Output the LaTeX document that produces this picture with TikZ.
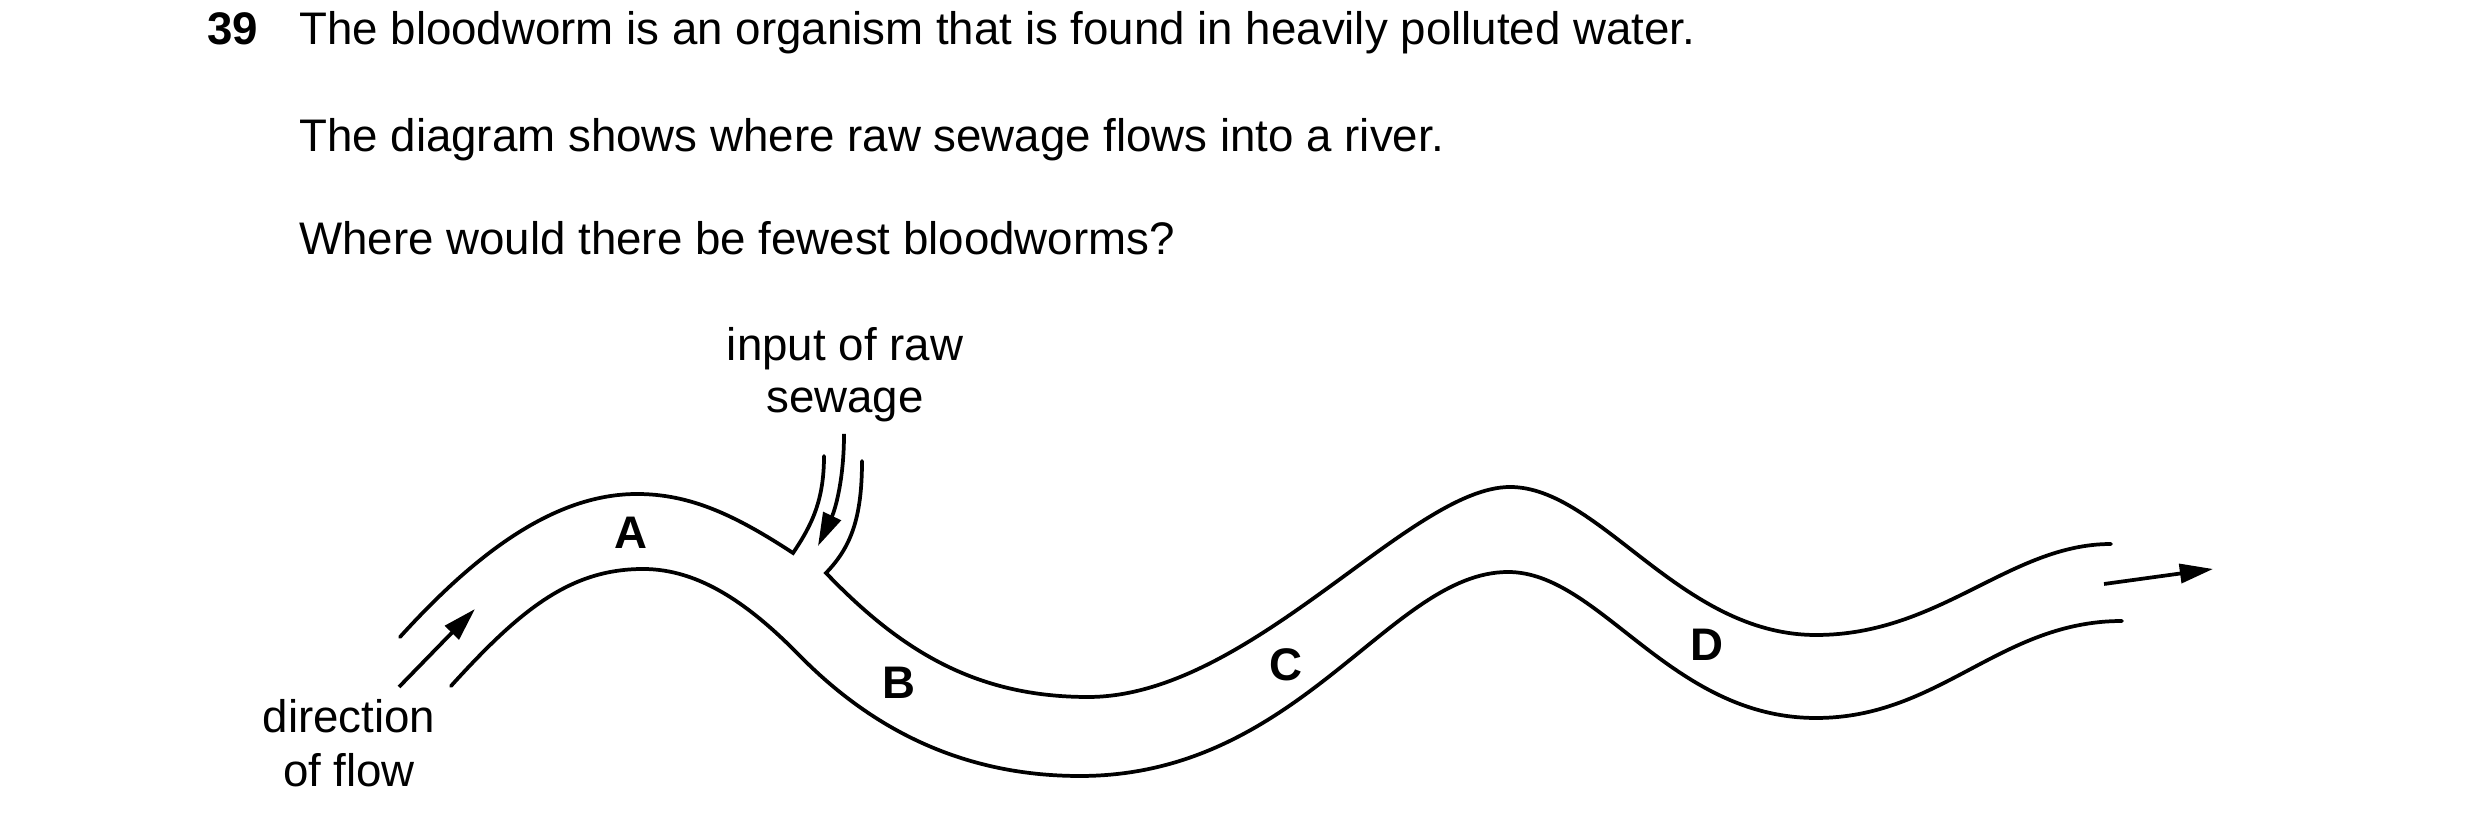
\documentclass[tikz,border=0pt]{standalone}
\usepackage{fontspec}
\setmainfont{Liberation Sans}
\usetikzlibrary{arrows.meta}
\begin{document}
\begin{tikzpicture}[x=0.2409pt,y=-0.2409pt,
  bank/.style={line width=0.9pt, line cap=round},
  qtext/.style={anchor=base west, inner sep=0pt, font=\fontsize{11}{13}\selectfont},
  ctext/.style={anchor=base, inner sep=0pt, font=\fontsize{11}{13}\selectfont},
  lbl/.style={anchor=base, inner sep=0pt, font=\fontsize{11}{13}\selectfont\bfseries},
  flowarrow/.style={line width=0.9pt, -{Triangle[length=8pt,width=4.6pt]}}]
\useasboundingbox (0,0) rectangle (2480,828);

% question text
\node[qtext, font=\fontsize{11}{13}\selectfont\bfseries] (num) at (206.6,45) {39};
\node[qtext] (q1) at (298.5,45) {The bloodworm is an organism that is found in heavily polluted water.};
\node[qtext] (q2) at (298.5,151.7) {The diagram shows where raw sewage flows into a river.};
\node[qtext] (q3) at (298.5,255) {Where would there be fewest bloodworms?};

% labels
\node[ctext] (in1) at (845,360.6) {input of raw};
\node[ctext] (in2) at (845,412.8) {sewage};
\node[ctext] (dir1) at (349,732.7) {direction};
\node[ctext] (dir2) at (349,786.5) {of flow};

\node[lbl] (A) at (630.5,549) {A};
\node[lbl] (B) at (898.5,699) {B};
\node[lbl] (C) at (1286,681) {C};
\node[lbl] (D) at (1707,661) {D};

% key points
\coordinate (u0) at (400,637);
\coordinate (u1) at (637,494);
\coordinate (u2) at (793,553);
\coordinate (p1) at (824,456);
\coordinate (p2) at (862,461);
\coordinate (u3) at (826,573);
\coordinate (u4) at (1088,697);
\coordinate (u5) at (1510,487);
\coordinate (u6) at (1816,635);
\coordinate (u7) at (2111,544);
\coordinate (l0) at (451,686);
\coordinate (l1) at (643,569);
\coordinate (lm) at (800,656);
\coordinate (l2) at (1080,776);
\coordinate (l3) at (1508,572);
\coordinate (l4) at (1816,718);
\coordinate (l5) at (2122,621);
\coordinate (s0) at (844,434);
\coordinate (s1) at (818,546);
\coordinate (f0) at (399,687);
\coordinate (f1) at (475,609);
\coordinate (r0) at (2104,584);
\coordinate (r1) at (2213,569);

% upper bank
\draw[bank] (u0) .. controls (470,560) and (550,494) .. (u1)
  .. controls (690,494) and (735,515) .. (u2)
  .. controls (812,525) and (824,500) .. (p1);
\draw[bank] (p2) .. controls (862,520) and (850,548) .. (u3)
  .. controls (900,650) and (975,697) .. (u4)
  .. controls (1250,697) and (1410,487) .. (u5)
  .. controls (1600,487) and (1680,635) .. (u6)
  .. controls (1940,635) and (2010,544) .. (u7);
% lower bank
\draw[bank] (l0) .. controls (520,610) and (570,569) .. (l1)
  .. controls (700,569) and (750,605) .. (lm)
  .. controls (870,727) and (960,776) .. (l2)
  .. controls (1300,776) and (1390,572) .. (l3)
  .. controls (1600,572) and (1670,718) .. (l4)
  .. controls (1940,718) and (2000,621) .. (l5);

% arrows
\draw[flowarrow] (s0) .. controls (844,480) and (835,510) .. (s1);
\draw[flowarrow] (f0) -- (f1);
\draw[flowarrow] (r0) -- (r1);
\end{tikzpicture}
\end{document}
